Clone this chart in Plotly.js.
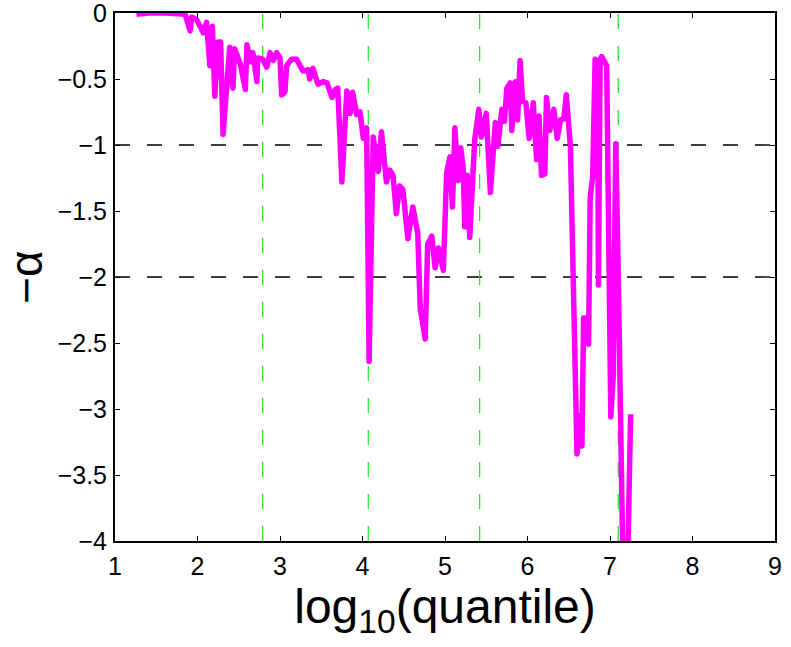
<!DOCTYPE html>
<html>
<head>
<meta charset="utf-8">
<script src="https://cdn.plot.ly/plotly-3.0.1.min.js"></script>
<style>
html,body{margin:0;padding:0;background:#fff;}
#chart{width:791px;height:647px;}
.js-line{stroke-linejoin:round;}
</style>
</head>
<body>
<div id="chart"></div>
<script>
// log10(quantile)
const logQuantile = [
  1.26,1.42,1.61,1.79,1.85,1.91,1.93,1.99,2.07,2.11,2.15,2.18,2.21,2.25,2.28,2.31,2.35,2.39,2.43,2.45,
  2.52,2.58,2.60,2.64,2.67,2.72,2.73,2.79,2.84,2.88,2.92,2.96,3.00,3.02,3.06,3.08,3.14,3.20,3.28,3.34,
  3.36,3.40,3.46,3.52,3.57,3.63,3.67,3.70,3.75,3.81,3.85,3.88,3.93,3.97,4.01,4.05,4.08,4.13,4.19,4.23,
  4.29,4.33,4.37,4.41,4.45,4.49,4.55,4.61,4.67,4.70,4.76,4.79,4.84,4.88,4.92,4.98,5.02,5.06,5.09,5.12,
  5.16,5.19,5.22,5.24,5.27,5.30,5.36,5.41,5.44,5.50,5.55,5.61,5.64,5.69,5.72,5.75,5.79,5.81,5.85,5.88,
  5.91,5.94,5.98,6.02,6.07,6.11,6.14,6.17,6.21,6.23,6.27,6.32,6.36,6.40,6.44,6.47,6.52,6.60,6.63,6.66,
  6.68,6.71,6.74,6.76,6.79,6.82,6.85,6.86,6.88,6.90,6.96,7.01,7.04,7.07,7.10,7.16,7.21,7.25
];
// -alpha
const negAlpha = [
  -0.01,0,0,0,-0.01,-0.135,-0.03,-0.05,-0.15,-0.07,-0.40,-0.10,-0.63,-0.22,-0.22,-0.92,-0.56,-0.26,-0.57,-0.27,
  -0.39,-0.58,-0.24,-0.37,-0.30,-0.52,-0.34,-0.35,-0.41,-0.30,-0.36,-0.30,-0.34,-0.62,-0.60,-0.40,-0.35,-0.35,-0.44,-0.43,
  -0.50,-0.42,-0.54,-0.52,-0.53,-0.64,-0.58,-0.57,-1.28,-0.59,-0.76,-0.60,-0.77,-0.75,-0.95,-0.87,-2.64,-0.94,-1.20,-0.90,
  -1.28,-1.19,-1.23,-1.52,-1.31,-1.34,-1.71,-1.47,-1.67,-2.24,-2.47,-1.75,-1.69,-1.93,-1.78,-1.95,-1.21,-1.09,-1.47,-0.87,
  -1.27,-1.02,-1.17,-1.62,-1.23,-1.70,-0.96,-0.73,-0.94,-0.76,-1.36,-0.83,-1.01,-0.73,-0.82,-0.57,-0.53,-0.89,-0.52,-0.81,
  -0.36,-0.67,-0.68,-0.95,-0.68,-1.11,-0.78,-1.23,-1.22,-0.64,-0.89,-0.73,-0.95,-0.81,-0.80,-0.62,-1.01,-3.34,-3.05,-3.28,
  -2.31,-2.31,-2.51,-1.40,-1.24,-0.35,-0.38,-2.06,-0.35,-0.33,-0.40,-3.06,-2.74,-0.99,-1.98,-4.3,-4.3,-3.04
];
const vLines = [2.79, 4.07, 5.42, 7.10];
const hLines = [-1, -2];
const xTicks = [1,2,3,4,5,6,7,8,9];
const yTicks = [0,-0.5,-1,-1.5,-2,-2.5,-3,-3.5,-4];

const shapes = [];
hLines.forEach(v => shapes.push({type:'line', xref:'paper', x0:0, x1:1, yref:'y', y0:v, y1:v,
  line:{color:'#000', width:1.4, dash:'15px,17px'}, layer:'below'}));
vLines.forEach(v => shapes.push({type:'line', xref:'x', x0:v, x1:v, yref:'paper', y0:0, y1:1,
  line:{color:'#1ee61e', width:1.2, dash:'15px,17px'}, layer:'below'}));

const trace = {x:logQuantile, y:negAlpha, mode:'lines', type:'scatter',
  line:{color:'#ff00ff', width:5.5}, hoverinfo:'skip'};

const font = {family:'"Liberation Sans", Arial, Helvetica, sans-serif', color:'#000'};
const layout = {
  width:791, height:647,
  margin:{l:115, r:16, t:13, b:106},
  paper_bgcolor:'#fff', plot_bgcolor:'#fff',
  showlegend:false,
  font:Object.assign({size:25}, font),
  xaxis:{range:[1,9], tickvals:xTicks, ticktext:xTicks.map(String), ticks:'inside', ticklen:5, tickwidth:1,
    tickcolor:'#000', showline:true, linecolor:'#000', linewidth:2, mirror:'ticks', showgrid:false, zeroline:false,
    tickfont:Object.assign({size:25}, font), ticklabelstandoff:2, ticklabeloverflow:'allow',
    title:{text:'log<sub>10</sub>(quantile)', font:Object.assign({size:48}, font), standoff:4}},
  yaxis:{range:[-4,0], tickvals:yTicks, ticktext:yTicks.map(v => v===0 ? '0' : '\u2212' + Math.abs(v)), ticks:'inside', ticklen:5, tickwidth:1,
    tickcolor:'#000', showline:true, linecolor:'#000', linewidth:2, mirror:'ticks', showgrid:false, zeroline:false,
    tickfont:Object.assign({size:25}, font), ticklabelstandoff:1, ticklabeloverflow:'allow',
    title:{text:'\u2212\u03b1', font:Object.assign({size:46}, font), standoff:4}},
  shapes:shapes
};
Plotly.newPlot('chart', [trace], layout, {displayModeBar:false, staticPlot:true});
</script>
</body>
</html>
